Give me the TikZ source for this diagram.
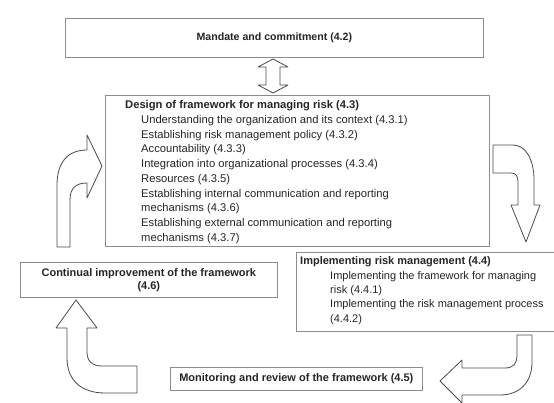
\documentclass[tikz,border=0pt]{standalone}
\usepackage{fontspec}
\setmainfont{Liberation Sans}
\definecolor{boxgray}{HTML}{8C8C8C}
\definecolor{arrowgray}{HTML}{4A4A4A}
\definecolor{textgray}{HTML}{262626}
\begin{document}
\begin{tikzpicture}[x=1pt,y=-1pt,
  box/.style={draw=boxgray, line width=0.7pt, fill=white, inner sep=0pt, anchor=north west},
  txt/.style={text=textgray, font=\fontsize{11}{14.4}\selectfont, inner sep=0pt},
  barrow/.style={draw=arrowgray, line width=0.8pt, fill=white, line join=round}]
\useasboundingbox (0,0) rectangle (554,403);
\clip (0,0) rectangle (554,403);
\fill[white] (0,0) rectangle (554,403);

% boxes
\node[box, minimum width=418pt, minimum height=39pt] (mandate) at (65,18) {};
\node[box, minimum width=384pt, minimum height=151pt] (design) at (105,95) {};
\node[box, minimum width=270pt, minimum height=79pt] (impl) at (296,252) {};
\node[box, minimum width=257pt, minimum height=35pt] (contimp) at (20,262) {};
\node[box, minimum width=252pt, minimum height=23pt] (monitor) at (170,367) {};

% texts
\node[txt, font=\fontsize{10.6}{14}\selectfont\bfseries] (mandatetxt) at (mandate.center) {Mandate and commitment (4.2)};
\node[txt, anchor=north west, align=left, font=\fontsize{11.2}{14.7}\selectfont] (designtxt) at (125,100.5)
  {\textbf{Design of framework for managing risk (4.3)}\\
   \hspace*{16pt}Understanding the organization and its context (4.3.1)\\
   \hspace*{16pt}Establishing risk management policy (4.3.2)\\
   \hspace*{16pt}Accountability (4.3.3)\\
   \hspace*{16pt}Integration into organizational processes (4.3.4)\\
   \hspace*{16pt}Resources (4.3.5)\\
   \hspace*{16pt}Establishing internal communication and reporting\\
   \hspace*{16pt}mechanisms (4.3.6)\\
   \hspace*{16pt}Establishing external communication and reporting\\
   \hspace*{16pt}mechanisms (4.3.7)};
\node[txt, anchor=north west, align=left] (impltxt) at (300,256.5)
  {\textbf{Implementing risk management (4.4)}\\
   \hspace*{30pt}Implementing the framework for managing\\
   \hspace*{30pt}risk (4.4.1)\\
   \hspace*{30pt}Implementing the risk management process\\
   \hspace*{30pt}(4.4.2)};
\node[txt, align=center, font=\fontsize{11}{13}\selectfont\bfseries] (contimptxt) at (contimp.center)
  {Continual improvement of the framework\\(4.6)};
\node[txt, font=\fontsize{11}{14}\selectfont\bfseries] (monitortxt) at (monitor.center)
  {Monitoring and review of the framework (4.5)};

% double arrow mandate <-> design
\draw[barrow] (273,59) -- (288,67) -- (280,67) -- (280,85) -- (288,85) -- (273,93)
  -- (258,85) -- (266,85) -- (266,67) -- (258,67) -- cycle;

% curved arrow: continual improvement -> design (left, up-right)
\draw[barrow] (57,247) -- (57,185) .. controls (57,162) and (68,150) .. (87,150)
  -- (87,135) -- (102,166) -- (87,198) -- (87,183)
  .. controls (76,183) and (70,188) .. (70,200) -- (70,247) -- cycle;

% curved arrow: design -> implementing (right, down)
\draw[barrow] (493,145) -- (513,145) .. controls (526,145) and (534,160) .. (534,180)
  -- (534,205) -- (540,205) -- (526,242) -- (511,205) -- (518,205) -- (518,182)
  .. controls (518,176) and (516,173) .. (511,173) -- (493,173) -- cycle;

% curved arrow: implementing -> monitoring (bottom right, left)
\draw[barrow] (517,335) -- (532,335) -- (532,362) .. controls (532,382) and (520,395) .. (500,395)
  -- (462,395) -- (462,403) -- (440,381) -- (462,360) -- (462,368) -- (505,368)
  .. controls (513,368) and (517,364) .. (517,355) -- cycle;

% curved arrow: monitoring -> continual improvement (bottom left, up)
\draw[barrow] (67,328) -- (56,328) -- (76,300) -- (97,328) -- (87,328) -- (87,352)
  .. controls (87,361) and (92,366) .. (102,366) -- (137,366) -- (137,393) -- (105,393)
  .. controls (81,393) and (67,380) .. (67,358) -- cycle;
\end{tikzpicture}
\end{document}
